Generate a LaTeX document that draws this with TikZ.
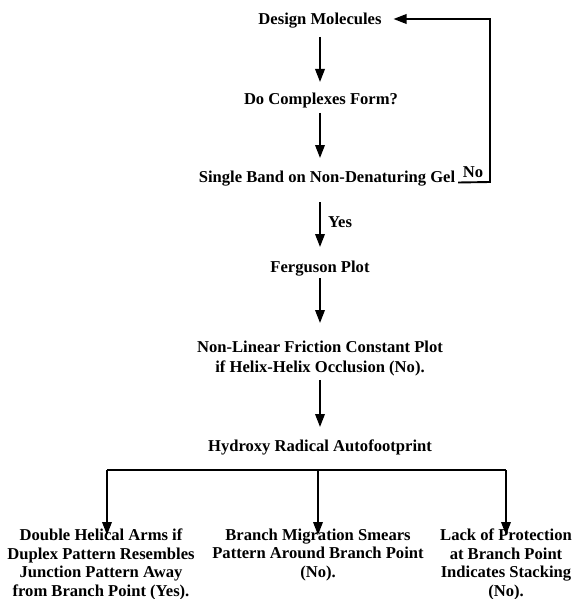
\documentclass[tikz,border=0pt]{standalone}
\usepackage{fontspec}
\setmainfont{Liberation Serif}
\usetikzlibrary{arrows.meta,calc}
\begin{document}
\begin{tikzpicture}[x=1pt,y=-1pt,
  line width=1.9pt,
  arr/.style={-{Triangle[length=13pt,width=9.5pt]}},
  lbl/.style={inner sep=0pt,font=\fontsize{16.6}{19}\selectfont\bfseries,text height=11pt,text depth=0pt},
  mlbl/.style={inner sep=0pt,font=\fontsize{16.6}{18.5}\selectfont\bfseries,align=center,anchor=north}]
\useasboundingbox (0,0) rectangle (574,599);
% nodes
\node[lbl] (dm) at (320,19) {Design Molecules};
\node[lbl] (dcf) at (321,99) {Do Complexes Form?};
\node[lbl] (sb) at (327,177) {Single Band on Non-Denaturing Gel};
\node[lbl] (fp) at (320,267) {Ferguson Plot};
\node[mlbl,font=\fontsize{16.6}{20}\selectfont\bfseries] (nl) at (320,340) {Non-Linear Friction Constant Plot\\if Helix-Helix Occlusion (No).};
\node[lbl] (hr) at (320,446) {Hydroxy Radical Autofootprint};
\node[mlbl] (dh) at (101,528) {Double Helical Arms if\\Duplex Pattern Resembles\\Junction Pattern Away\\from Branch Point (Yes).};
\node[mlbl] (bm) at (318,528) {Branch Migration Smears\\Pattern Around Branch Point\\(No).};
\node[mlbl] (lp) at (506,528) {Lack of Protection\\at Branch Point\\Indicates Stacking\\(No).};
\node[lbl] (no) at (473,172) {No};
\node[lbl] (yes) at (340,222) {Yes};
% coordinates
\coordinate (nocorner) at (490,182);
\coordinate (bl) at (107,470);
\coordinate (bmid) at (318,470);
\coordinate (br) at (506,470);
% main arrows
\draw[arr,shorten <=18pt,shorten >=17pt] (dm.center) -- (dcf.center -| dm.center);
\draw[arr,shorten <=14pt,shorten >=19pt] (dcf.center -| dm.center) -- (sb.center -| dm.center);
\draw[arr,shorten <=25pt,shorten >=20pt] (sb.center -| fp.center) -- (fp.center);
\draw[arr,shorten <=11pt,shorten >=17pt] (fp.center) -- (nl.north);
\draw[arr,shorten <=3pt,shorten >=19pt] (nl.south) -- (hr.center);
% loop back
\draw[arr] ([xshift=2pt,yshift=-5.5pt]sb.east) -- (nocorner) |- ([xshift=11pt]dm.east);
% branches
\draw (bl) -- (br);
\draw[arr,shorten >=-7pt] (bl) -- (bl |- dh.north);
\draw[arr,shorten >=-7pt] (bmid) -- (bmid |- bm.north);
\draw[arr,shorten >=-7pt] (br) -- (br |- lp.north);
\end{tikzpicture}
\end{document}
